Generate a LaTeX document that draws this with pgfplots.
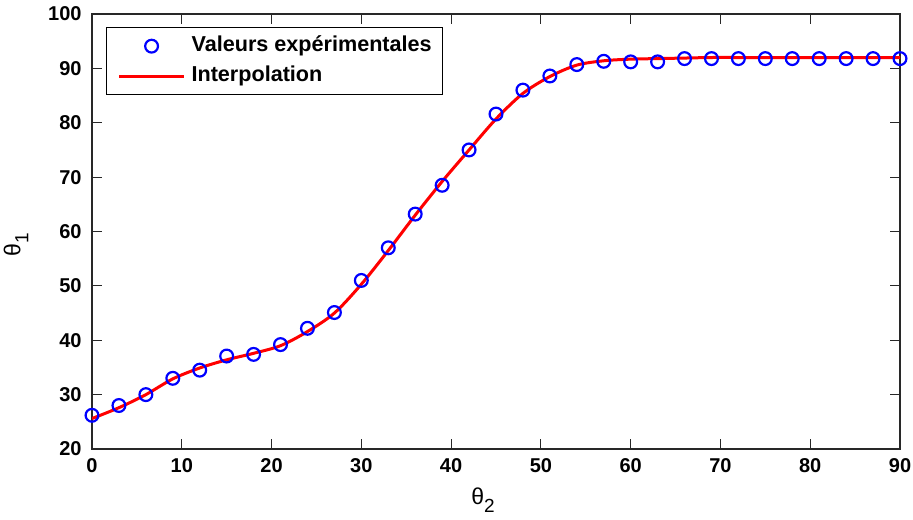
\documentclass[border=0pt]{standalone}
\usepackage{pgfplots}
\pgfplotsset{compat=1.18}
\usepackage{fontspec}
\setmainfont{Liberation Sans}
\definecolor{axgray}{RGB}{40,40,40}
\begin{document}
\begin{tikzpicture}
\begin{axis}[
  scale only axis,
  width=404pt, height=217.5pt,
  xmin=0, xmax=90, ymin=20, ymax=100,
  xtick={0,10,...,90}, ytick={20,30,...,100},
  tick align=inside, major tick length=5pt,
  xtick pos=both, ytick pos=both,
  axis line style={axgray, line width=0.6pt},
  every tick/.style={axgray, line width=0.6pt},
  /pgf/number format/assume math mode=true,
  tick label style={font=\fontsize{10}{12}\selectfont\bfseries, inner sep=0pt, text=black},
  yticklabel style={xshift=-5pt},
  xticklabel style={yshift=-4.5pt},
  xlabel={θ\raisebox{-4pt}{\fontsize{9.5}{11}\selectfont 2}},
  ylabel={θ\raisebox{-4pt}{\fontsize{9.5}{11}\selectfont 1}},
  label style={font=\fontsize{11.5}{13}\selectfont},
  xlabel style={at={(axis description cs:0.484,-0.118)}, anchor=center},
  ylabel style={at={(axis description cs:-0.094,0.47)}, anchor=center},
  legend image code/.code={\draw[mark repeat=2,mark phase=2,#1] plot coordinates {(0pt,0pt)(16.25pt,0pt)(32.5pt,0pt)};},
  legend style={at={(0.0173,0.970)}, anchor=north west,
    draw=black, line width=0.6pt, inner xsep=5.5pt, inner ysep=4pt,
    font=\fontsize{10.8}{13}\selectfont\bfseries,
    nodes={inner sep=0pt, text height=8pt, text depth=2.5pt},
    row sep=4.5pt, column sep=3pt},
  legend cell align=left,
]
\addplot[only marks, mark=o, mark size=3.2pt, blue, mark options={line width=1.1pt}] coordinates {
(0,26.2)(3,28.0)(6,30.0)(9,33.0)(12,34.5)(15,37.1)(18,37.4)(21,39.2)(24,42.2)(27,45.1)
(30,51.0)(33,57.0)(36,63.2)(39,68.5)(42,75.0)(45,81.6)(48,86.0)(51,88.6)(54,90.7)(57,91.3)
(60,91.2)(63,91.2)(66,91.8)(69,91.8)(72,91.8)(75,91.8)(78,91.8)(81,91.8)(84,91.8)(87,91.8)(90,91.8)
};
\addlegendentry{Valeurs expérimentales}
\addplot[red, line width=1.5pt, smooth] coordinates {
(0,25.6)(3,27.6)(6,30.0)(9,32.9)(12,34.9)(15,36.4)(18,37.6)(21,39.0)(24,41.6)(27,45.0)
(30,50.3)(33,56.5)(36,63.0)(39,69.2)(42,75.0)(45,80.7)(48,85.4)(51,88.5)(54,90.6)(57,91.4)
(60,91.7)(63,91.8)(66,91.9)(69,92.0)(72,92.0)(75,92.0)(78,92.0)(81,92.0)(84,92.0)(87,92.0)(90,92.0)
};
\addlegendentry{Interpolation}
\end{axis}
\pgfresetboundingbox
\path[use as bounding box] (-46pt,-35pt) rectangle (410.5pt,224.5pt);
\end{tikzpicture}
\end{document}
